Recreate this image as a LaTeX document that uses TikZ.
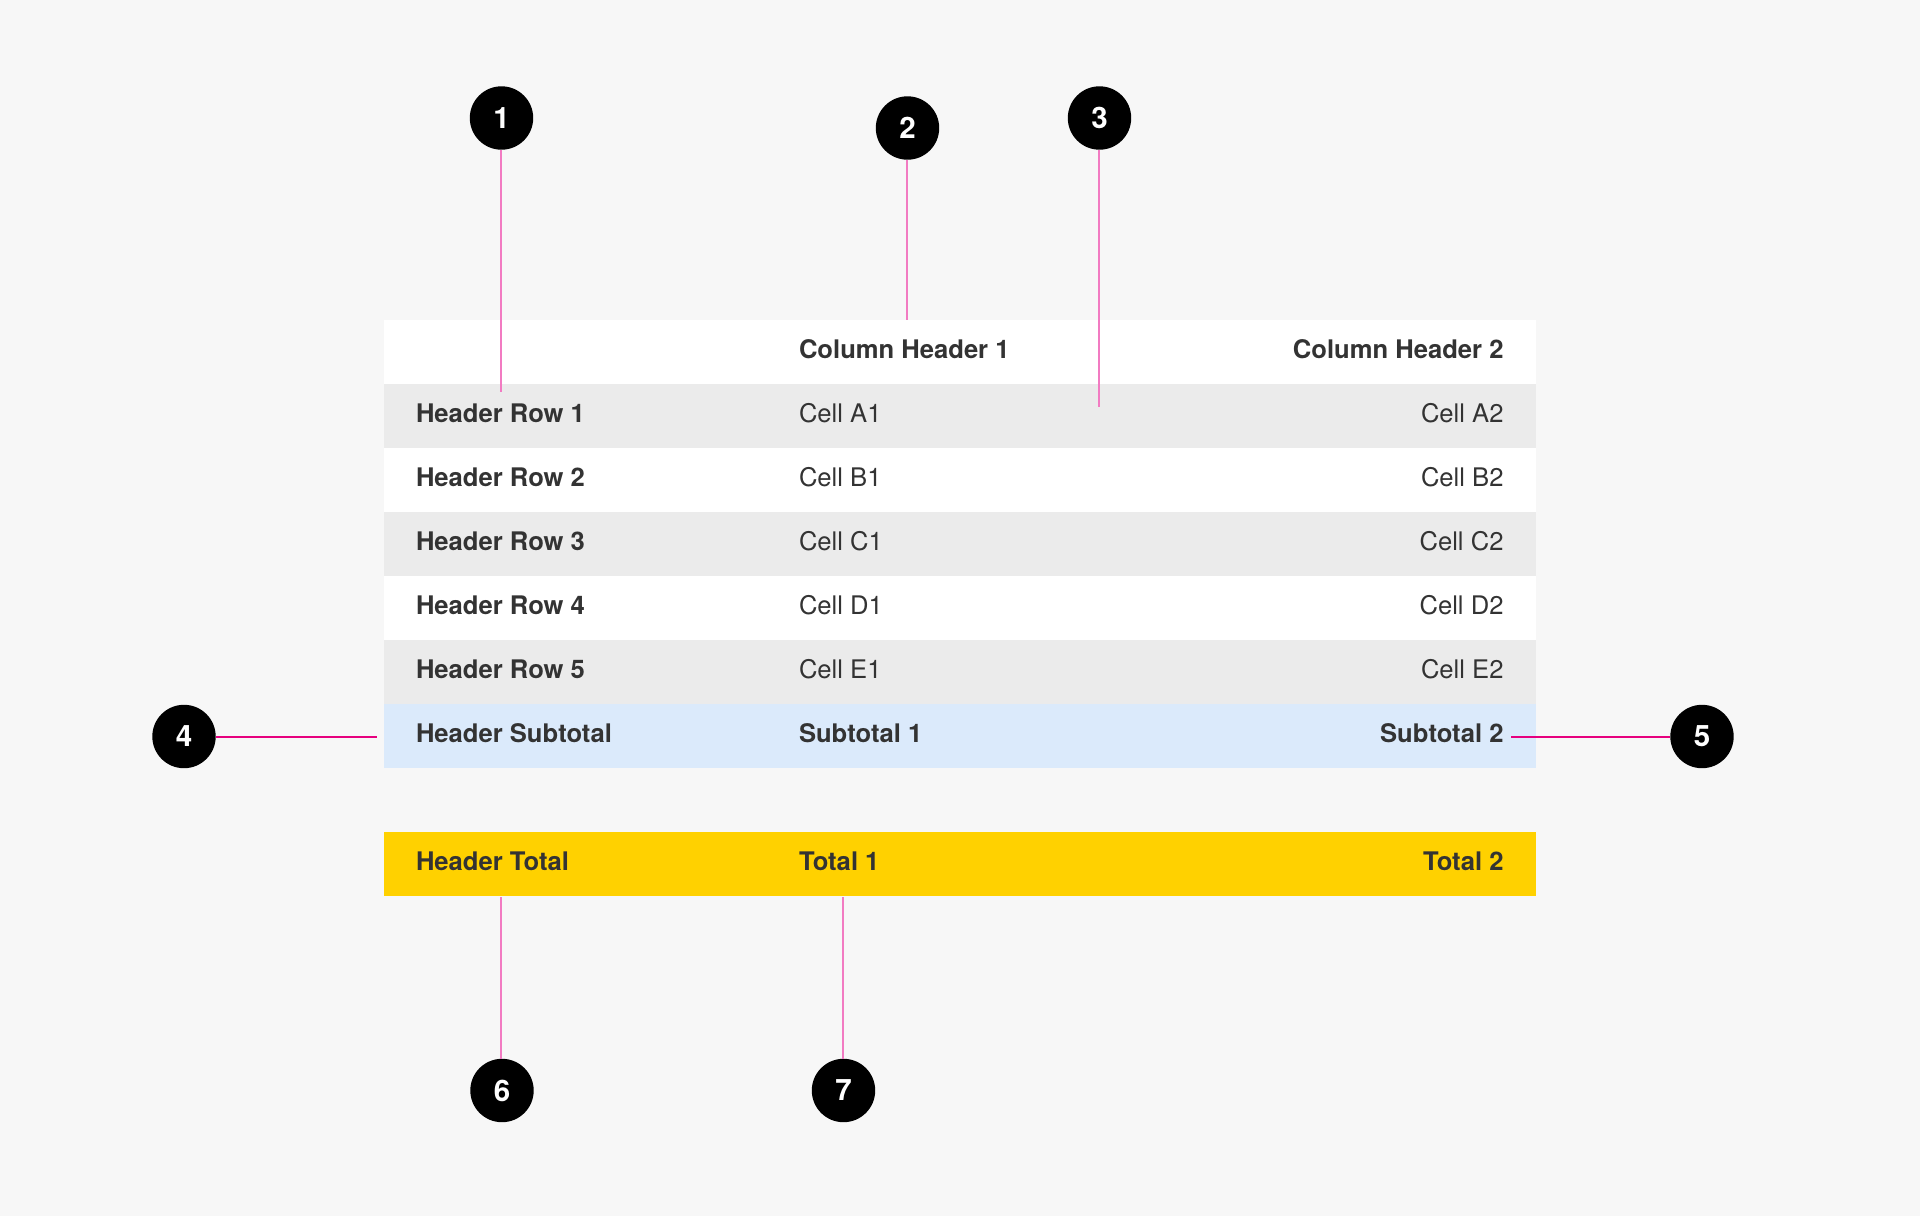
\documentclass[tikz,border=0pt]{standalone}
\usepackage{fontspec}
\setmainfont{TeX Gyre Heros}
\definecolor{bg}{HTML}{F7F7F7}
\definecolor{rowgrey}{HTML}{EBEBEB}
\definecolor{rowblue}{HTML}{DBEAFB}
\definecolor{rowyellow}{HTML}{FFD100}
\definecolor{txt}{HTML}{333333}
\definecolor{pinkV}{HTML}{F27BC2}
\definecolor{pinkH}{HTML}{E6007E}
\tikzset{
  rowbox/.style={draw=none, minimum width=1152pt, minimum height=64pt, inner sep=0pt, outer sep=0pt},
  celltxt/.style={inner sep=0pt, outer sep=0pt, text=txt, font=\fontsize{25.6}{30}\selectfont},
  cellL/.style={celltxt, anchor=base west},
  cellR/.style={celltxt, anchor=base east},
  boldtxt/.style={font=\fontsize{25.6}{30}\selectfont\bfseries},
  badge/.style={circle, fill=black, minimum size=63.4pt, inner sep=0pt, outer sep=0pt, text=white, font=\fontsize{29.5}{30}\selectfont\bfseries},
  vline/.style={draw=pinkV, line width=1.6pt},
  hline/.style={draw=pinkH, line width=2pt}
}
\begin{document}
\begin{tikzpicture}[x=1pt,y=-1pt]
\useasboundingbox (0,0) rectangle (1920,1216);
\fill[bg] (0,0) rectangle (1920,1216);
% rows
\node[rowbox, fill=white] (r0) at (960,352) {};
\node[rowbox, fill=rowgrey] (r1) at (960,416) {};
\node[rowbox, fill=white] (r2) at (960,480) {};
\node[rowbox, fill=rowgrey] (r3) at (960,544) {};
\node[rowbox, fill=white] (r4) at (960,608) {};
\node[rowbox, fill=rowgrey] (r5) at (960,672) {};
\node[rowbox, fill=rowblue] (rs) at (960,736) {};
\node[rowbox, fill=rowyellow] (rt) at (960,864) {};
% header row
\node[cellL, boldtxt] (h1) at (799,358) {Column Header 1};
\node[cellR, boldtxt] (h2) at (1503.5,358) {Column Header 2};
% body rows
\node[cellL, boldtxt] (a0) at (416,422) {Header Row 1};
\node[cellL] (a1) at (799,422) {Cell A1};
\node[cellR] (a2) at (1503.5,422) {Cell A2};
\node[cellL, boldtxt] (b0) at (416,486) {Header Row 2};
\node[cellL] (b1) at (799,486) {Cell B1};
\node[cellR] (b2) at (1503.5,486) {Cell B2};
\node[cellL, boldtxt] (c0) at (416,550) {Header Row 3};
\node[cellL] (c1) at (799,550) {Cell C1};
\node[cellR] (c2) at (1503.5,550) {Cell C2};
\node[cellL, boldtxt] (d0) at (416,614) {Header Row 4};
\node[cellL] (d1) at (799,614) {Cell D1};
\node[cellR] (d2) at (1503.5,614) {Cell D2};
\node[cellL, boldtxt] (e0) at (416,678) {Header Row 5};
\node[cellL] (e1) at (799,678) {Cell E1};
\node[cellR] (e2) at (1503.5,678) {Cell E2};
\node[cellL, boldtxt] (s0) at (416,742) {Header Subtotal};
\node[cellL, boldtxt] (s1) at (799,742) {Subtotal 1};
\node[cellR, boldtxt] (s2) at (1503.5,742) {Subtotal 2};
\node[cellL, boldtxt] (t0) at (416,870) {Header Total};
\node[cellL, boldtxt] (t1) at (799,870) {Total 1};
\node[cellR, boldtxt] (t2) at (1503.5,870) {Total 2};
% badges
\node[badge] (n1) at (501.5,118) {1};
\node[badge] (n2) at (907.5,128) {2};
\node[badge] (n3) at (1099.5,118) {3};
\node[badge] (n4) at (184,736.5) {4};
\node[badge] (n5) at (1702,736.5) {5};
\node[badge] (n6) at (502,1090.5) {6};
\node[badge] (n7) at (843.5,1090.5) {7};
% connector end points
\coordinate (e1p) at (501,392);
\coordinate (e2p) at (907,320);
\coordinate (e3p) at (1099,407);
\coordinate (e4p) at (376.5,736.5);
\coordinate (e5p) at (1511,736.5);
\coordinate (e6p) at (501,897);
\coordinate (e7p) at (843,897);
\draw[vline] (n1.south) ++(-0.5,0) coordinate (n1b) (n1b) -- (n1b |- e1p);
\draw[vline] (n2.south) ++(-0.5,0) coordinate (n2b) (n2b) -- (n2b |- e2p);
\draw[vline] (n3.south) ++(-0.5,0) coordinate (n3b) (n3b) -- (n3b |- e3p);
\draw[hline] (n4.east) -- (n4.east -| e4p);
\draw[hline] (e5p) -- (e5p -| n5.west);
\draw[vline] (e6p) -- (e6p |- n6.north);
\draw[vline] (e7p) -- (e7p |- n7.north);
\end{tikzpicture}
\end{document}
